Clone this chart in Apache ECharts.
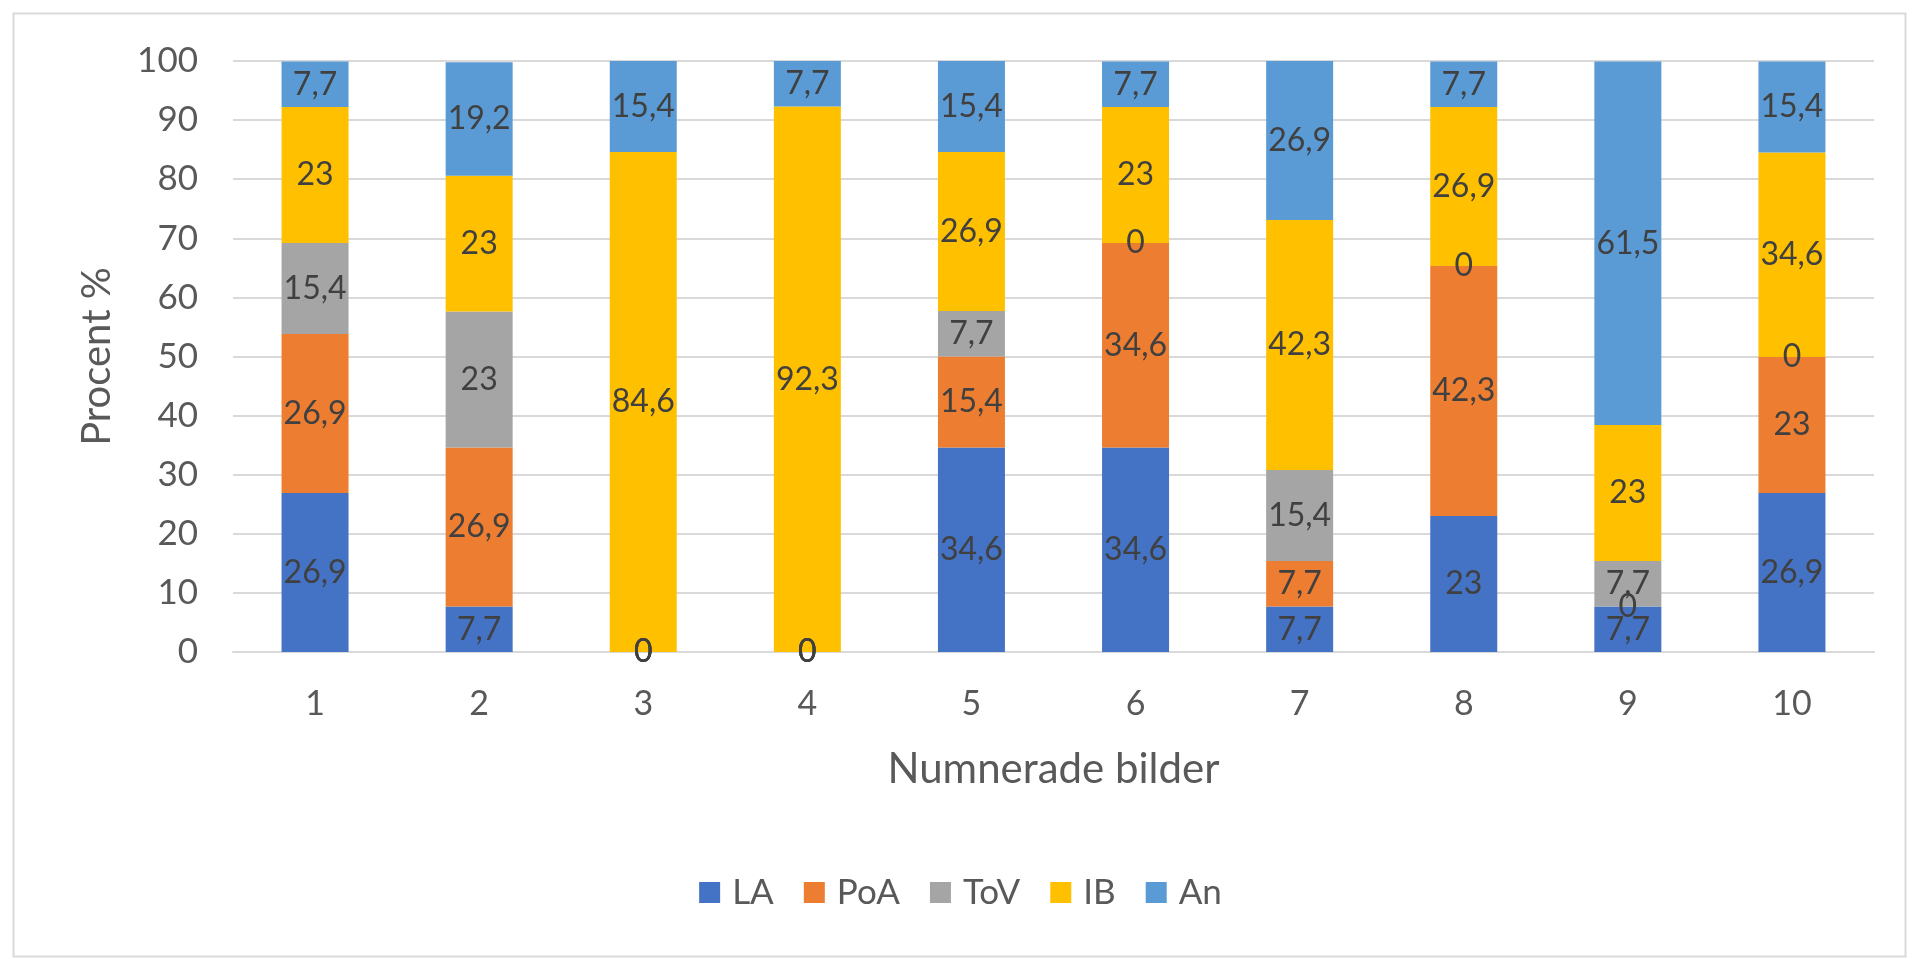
<!DOCTYPE html>
<html>
<head>
<meta charset="utf-8">
<script src="https://cdn.jsdelivr.net/npm/echarts@6/dist/echarts.min.js"></script>
<style>
	html, body { margin: 0; padding: 0; background: #fff; }
	#main { width: 1921px; height: 959px; }
</style>
</head>
<body>
<div id="main"></div>
<script>
	// bilder 1-10
	var categories = ['1', '2', '3', '4', '5', '6', '7', '8', '9', '10'];
	var yTicks = [0, 10, 20, 30, 40, 50, 60, 70, 80, 90, 100];
	var seriesNames = ['LA', 'PoA', 'ToV', 'IB', 'An'];
	var colors = ['#4472C4', '#ED7D31', '#A5A5A5', '#FFC000', '#5B9BD5'];

	var LA = [26.9, 7.7, 0, 0, 34.6, 34.6, 7.7, 23, 7.7, 26.9];
	var PoA = [26.9, 26.9, 0, 0, 15.4, 34.6, 7.7, 42.3, 0, 23];
	var ToV = [15.4, 23, 0, 0, 7.7, 0, 15.4, 0, 7.7, 0];
	var IB = [23, 23, 84.6, 92.3, 26.9, 23, 42.3, 26.9, 23, 34.6];
	var An = [7.7, 19.2, 15.4, 7.7, 15.4, 7.7, 26.9, 7.7, 61.5, 15.4];

	var values = [LA, PoA, ToV, IB, An];
	var font = 'Lato';

	var series = [];
	for (var i = 0; i < seriesNames.length; i++) {
		series.push({
			name: seriesNames[i],
			type: 'bar',
			stack: 'total',
			barWidth: 67,
			itemStyle: { color: colors[i] },
			label: {
				show: true,
				position: 'inside',
				color: '#404040',
				fontFamily: font,
				fontSize: 32,
				formatter: function(p) {
					return String(p.value).replace('.', ',');
				}
			},
			data: values[i]
		});
	}

	var chart = echarts.init(document.getElementById('main'));
	chart.setOption({
		animation: false,
		textStyle: { fontFamily: font },
		grid: { left: 233, right: 47, top: 61, bottom: 307 },
		legend: {
			data: seriesNames,
			top: 870,
			left: 'center',
			itemWidth: 21,
			itemHeight: 21,
			itemGap: 30,
			icon: 'rect',
			textStyle: { color: '#595959', fontSize: 35, fontFamily: font, padding: [0, 0, 0, 7] }
		},
		xAxis: {
			type: 'category',
			data: categories,
			name: 'Numnerade bilder',
			nameLocation: 'middle',
			nameGap: 96,
			nameTextStyle: { color: '#595959', fontSize: 42, fontFamily: font },
			axisLine: { lineStyle: { color: '#d9d9d9', width: 2 } },
			axisTick: { show: false },
			axisLabel: { color: '#595959', fontSize: 34, margin: 35 }
		},
		yAxis: {
			type: 'value',
			min: yTicks[0],
			max: yTicks[yTicks.length - 1],
			interval: 10,
			name: 'Procent %',
			nameLocation: 'middle',
			nameRotate: 90,
			nameGap: 116,
			nameTextStyle: { color: '#595959', fontSize: 40, fontFamily: font },
			axisLine: { show: false },
			axisTick: { show: false },
			splitLine: { lineStyle: { color: '#d9d9d9', width: 2 } },
			axisLabel: { color: '#595959', fontSize: 35, margin: 35 }
		},
		graphic: [{
			type: 'rect',
			shape: { x: 13.5, y: 13.5, width: 1892, height: 943 },
			style: { fill: 'none', stroke: '#d9d9d9', lineWidth: 2 },
			silent: true
		}],
		series: series
	});
</script>
</body>
</html>
